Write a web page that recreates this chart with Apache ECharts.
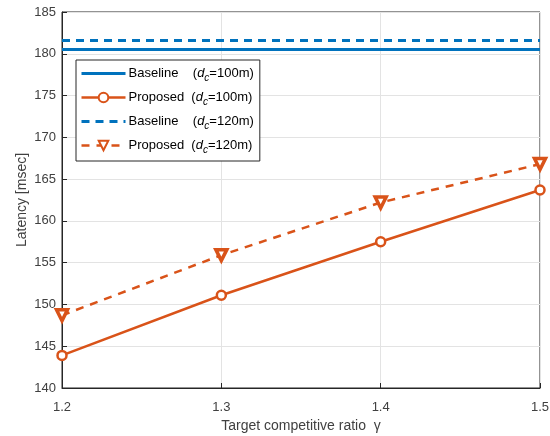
<!DOCTYPE html>
<html><head><meta charset="utf-8">
<script src="https://cdn.jsdelivr.net/npm/echarts@6/dist/echarts.min.js"></script>
<style>html,body{margin:0;padding:0;background:#fff}#c{width:550px;height:436px}</style>
</head><body><div id="c"></div>
<script>
const gammas = [1.2, 1.3, 1.4, 1.5];
const baseline100 = [180.5, 180.5, 180.5, 180.5];
const proposed100 = [143.9, 151.1, 157.5, 163.7];
const baseline120 = [181.6, 181.6, 181.6, 181.6];
const proposed120 = [148.7, 155.9, 162.2, 166.8];
const xTicks = [1.2, 1.3, 1.4, 1.5];
const yTicks = [140, 145, 150, 155, 160, 165, 170, 175, 180, 185];

const blue = '#0072BD', orange = '#D95319';
const txt = '#404040';
const pair = (ys) => gammas.map((g, i) => [g, ys[i]]);

const chart = echarts.init(document.getElementById('c'));
const rich = {
  n: {fontFamily: 'Liberation Sans', fontSize: 13, color: '#000'},
  d: {fontFamily: 'Liberation Sans', fontSize: 13, fontStyle: 'italic', color: '#000'},
  s: {fontFamily: 'Liberation Sans', fontSize: 10, fontStyle: 'italic', color: '#000', verticalAlign: 'bottom', padding: [9, 0, 0, 0]}
};
const names = ['Baseline', 'Proposed', 'Baseline ', 'Proposed '];
const dists = ['100m', '100m', '120m', '120m'];
chart.setOption({
  animation: false,
  grid: {left: 62, right: 10, top: 12, bottom: 48, show: true, borderColor: '#262626', borderWidth: 1,
    containLabel: false, outerBoundsMode: 'none'},
  legend: {
    left: 76, top: 60, orient: 'vertical', itemWidth: 44, itemHeight: 12, itemGap: 8,
    backgroundColor: '#fff', borderColor: '#262626', borderWidth: 1, padding: [7, 6, 6, 4],
    data: [
      {name: names[0], itemStyle: {opacity: 0, borderWidth: 0}, lineStyle: {width: 3}},
      {name: names[1], lineStyle: {width: 2.5}},
      {name: names[2], itemStyle: {opacity: 0, borderWidth: 0}, lineStyle: {width: 3}},
      {name: names[3], lineStyle: {width: 2.5}}
    ],
    formatter: function (name) {
      const i = names.indexOf(name);
      const label = i % 2 === 0 ? 'Baseline    ' : 'Proposed  ';
      return '{n|' + label + '(}{d|d}{s|c}{n|=' + dists[i] + ')}';
    },
    textStyle: {rich: rich, padding: [0, 0, 0, -2]}
  },
  xAxis: {
    type: 'value', min: 1.2, max: 1.5, interval: 0.1,
    name: 'Target competitive ratio  γ', nameLocation: 'middle', nameGap: 31, nameMoveOverlap: false,
    nameTextStyle: {fontFamily: 'Liberation Sans', fontSize: 14, color: txt},
    axisLine: {lineStyle: {color: '#262626'}},
    axisTick: {inside: true, length: 5, lineStyle: {color: '#262626'}},
    axisLabel: {fontFamily: 'Liberation Sans', fontSize: 13, color: txt, margin: 13,
      formatter: v => xTicks.includes(Math.round(v * 10) / 10) ? (Math.round(v * 10) / 10).toFixed(1) : ''},
    splitLine: {show: true, lineStyle: {color: '#e3e3e3'}}
  },
  yAxis: {
    type: 'value', min: 140, max: 185, interval: 5,
    name: 'Latency [msec]', nameLocation: 'middle', nameGap: 33, nameMoveOverlap: false,
    nameTextStyle: {fontFamily: 'Liberation Sans', fontSize: 14, color: txt},
    axisLine: {show: true, lineStyle: {color: '#262626'}},
    axisTick: {show: true, inside: true, length: 5, lineStyle: {color: '#262626'}},
    axisLabel: {fontFamily: 'Liberation Sans', fontSize: 13, color: txt, margin: 6,
      formatter: v => yTicks.includes(v) ? String(v) : ''},
    splitLine: {show: true, lineStyle: {color: '#e3e3e3'}}
  },
  series: [
    {name: names[0], type: 'line', data: pair(baseline100), showSymbol: false, symbol: 'none',
      lineStyle: {color: blue, width: 3}, itemStyle: {color: blue}},
    {name: names[1], type: 'line', data: pair(proposed100), symbol: 'circle', symbolSize: 9,
      lineStyle: {color: orange, width: 2.5},
      itemStyle: {color: '#fff', borderColor: orange, borderWidth: 2.5}},
    {name: names[2], type: 'line', data: pair(baseline120), showSymbol: false, symbol: 'none',
      lineStyle: {color: blue, width: 3, type: [8, 6]}, itemStyle: {color: blue}},
    {name: names[3], type: 'line', data: pair(proposed120), symbol: 'triangle', symbolRotate: 180, symbolSize: 11,
      lineStyle: {color: orange, width: 2.5, type: [8, 7]},
      itemStyle: {color: '#fff', borderColor: orange, borderWidth: 3.5}}
  ]
});
</script></body></html>
